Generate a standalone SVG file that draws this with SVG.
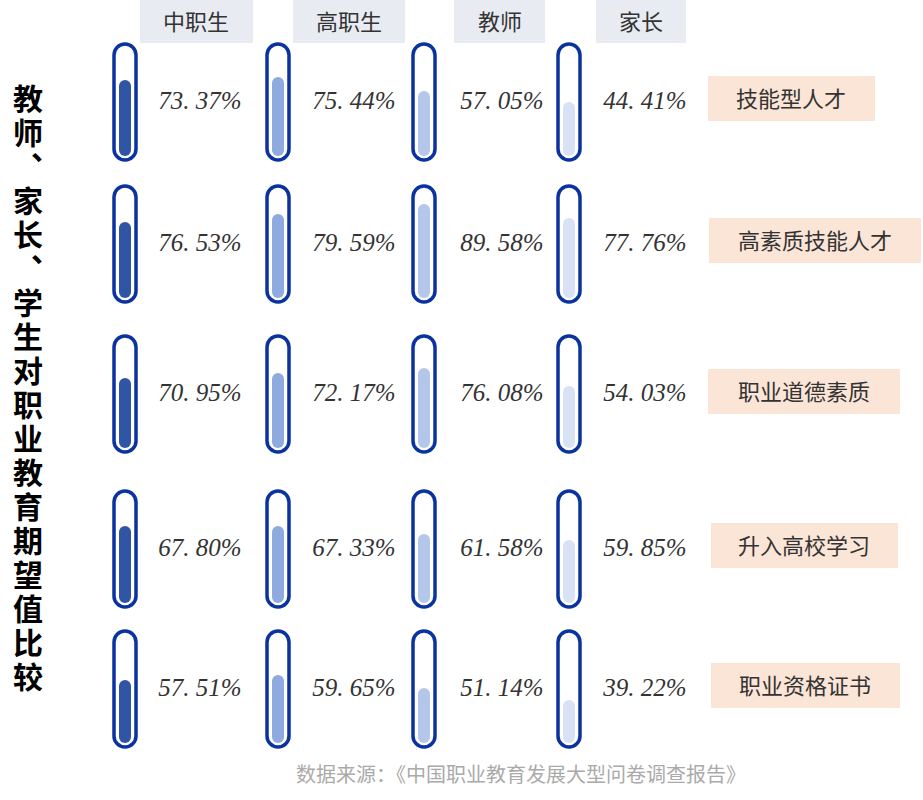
<svg xmlns="http://www.w3.org/2000/svg" width="923" height="800" viewBox="0 0 923 800">
<style>
.hd{fill:#e8ecf2}.hl{font-family:"Noto Sans CJK SC",sans-serif;font-size:22px;fill:#333;text-anchor:middle}
.tube{fill:#fff;stroke:#0a33a0;stroke-width:3.5}
.pct{font-family:"Liberation Serif",serif;font-style:italic;font-size:25px;fill:#333;text-anchor:middle}
.lb{fill:#fbe5d6}.lt{font-family:"Noto Sans CJK SC",sans-serif;font-size:22px;fill:#333;text-anchor:middle}
.c1{fill:#2f55a4}.c2{fill:#8eaadf}.c3{fill:#b4c6ea}.c4{fill:#d9e2f5}
</style>
<g id="headers">
<rect class="hd" x="140" y="0" width="113" height="43"/><text class="hl" x="196" y="30">中职生</text>
<rect class="hd" x="293" y="0" width="112" height="43"/><text class="hl" x="349" y="30">高职生</text>
<rect class="hd" x="454" y="0" width="91" height="43"/><text class="hl" x="500" y="30">教师</text>
<rect class="hd" x="596" y="0" width="90" height="43"/><text class="hl" x="641" y="30">家长</text>
</g>
<g id="title">
<text x="28" y="84" writing-mode="vertical-rl" letter-spacing="4" font-family="Noto Sans CJK SC,sans-serif" font-weight="bold" font-size="30" fill="#000">教师、家长、学生对职业教育期望值比较</text>
</g>
<g id="row1">
<rect class="tube" x="114" y="44" width="22" height="116" rx="11"/><rect class="c1" x="119" y="80" width="12" height="76" rx="6"/>
<rect class="tube" x="267" y="44" width="22" height="116" rx="11"/><rect class="c2" x="272" y="77" width="12" height="79" rx="6"/>
<rect class="tube" x="413" y="44" width="22" height="116" rx="11"/><rect class="c3" x="418" y="91" width="12" height="65" rx="6"/>
<rect class="tube" x="558" y="44" width="22" height="116" rx="11"/><rect class="c4" x="563" y="102" width="12" height="54" rx="6"/>
<text class="pct" x="200" y="109">73. 37%</text><text class="pct" x="354" y="109">75. 44%</text><text class="pct" x="502" y="109">57. 05%</text><text class="pct" x="645" y="109">44. 41%</text>
<rect class="lb" x="708" y="76" width="167" height="45"/><text class="lt" x="791" y="107">技能型人才</text>
</g>
<g id="row2">
<rect class="tube" x="114" y="186" width="22" height="116" rx="11"/><rect class="c1" x="119" y="222" width="12" height="76" rx="6"/>
<rect class="tube" x="267" y="186" width="22" height="116" rx="11"/><rect class="c2" x="272" y="214" width="12" height="84" rx="6"/>
<rect class="tube" x="413" y="186" width="22" height="116" rx="11"/><rect class="c3" x="418" y="204" width="12" height="94" rx="6"/>
<rect class="tube" x="558" y="186" width="22" height="116" rx="11"/><rect class="c4" x="563" y="218" width="12" height="80" rx="6"/>
<text class="pct" x="200" y="251">76. 53%</text><text class="pct" x="354" y="251">79. 59%</text><text class="pct" x="502" y="251">89. 58%</text><text class="pct" x="645" y="251">77. 76%</text>
<rect class="lb" x="709" y="218" width="212" height="45"/><text class="lt" x="815" y="249">高素质技能人才</text>
</g>
<g id="row3">
<rect class="tube" x="114" y="336" width="22" height="116" rx="11"/><rect class="c1" x="119" y="378" width="12" height="70" rx="6"/>
<rect class="tube" x="267" y="336" width="22" height="116" rx="11"/><rect class="c2" x="272" y="373" width="12" height="75" rx="6"/>
<rect class="tube" x="413" y="336" width="22" height="116" rx="11"/><rect class="c3" x="418" y="368" width="12" height="80" rx="6"/>
<rect class="tube" x="558" y="336" width="22" height="116" rx="11"/><rect class="c4" x="563" y="386" width="12" height="62" rx="6"/>
<text class="pct" x="200" y="401">70. 95%</text><text class="pct" x="354" y="401">72. 17%</text><text class="pct" x="502" y="401">76. 08%</text><text class="pct" x="645" y="401">54. 03%</text>
<rect class="lb" x="708" y="369" width="192" height="45"/><text class="lt" x="804" y="400">职业道德素质</text>
</g>
<g id="row4">
<rect class="tube" x="114" y="491" width="22" height="116" rx="11"/><rect class="c1" x="119" y="526" width="12" height="77" rx="6"/>
<rect class="tube" x="267" y="491" width="22" height="116" rx="11"/><rect class="c2" x="272" y="526" width="12" height="77" rx="6"/>
<rect class="tube" x="413" y="491" width="22" height="116" rx="11"/><rect class="c3" x="418" y="534" width="12" height="69" rx="6"/>
<rect class="tube" x="558" y="491" width="22" height="116" rx="11"/><rect class="c4" x="563" y="540" width="12" height="63" rx="6"/>
<text class="pct" x="200" y="556">67. 80%</text><text class="pct" x="354" y="556">67. 33%</text><text class="pct" x="502" y="556">61. 58%</text><text class="pct" x="645" y="556">59. 85%</text>
<rect class="lb" x="711" y="523" width="187" height="45"/><text class="lt" x="804" y="554">升入高校学习</text>
</g>
<g id="row5">
<rect class="tube" x="114" y="631" width="22" height="116" rx="11"/><rect class="c1" x="119" y="680" width="12" height="63" rx="6"/>
<rect class="tube" x="267" y="631" width="22" height="116" rx="11"/><rect class="c2" x="272" y="675" width="12" height="68" rx="6"/>
<rect class="tube" x="413" y="631" width="22" height="116" rx="11"/><rect class="c3" x="418" y="688" width="12" height="55" rx="6"/>
<rect class="tube" x="558" y="631" width="22" height="116" rx="11"/><rect class="c4" x="563" y="700" width="12" height="43" rx="6"/>
<text class="pct" x="200" y="696">57. 51%</text><text class="pct" x="354" y="696">59. 65%</text><text class="pct" x="502" y="696">51. 14%</text><text class="pct" x="645" y="696">39. 22%</text>
<rect class="lb" x="711" y="663" width="189" height="45"/><text class="lt" x="805" y="694">职业资格证书</text>
</g>
<g id="footer"><text x="521" y="782" font-family="Noto Sans CJK SC,sans-serif" font-size="20" fill="#aaa" text-anchor="middle">数据来源：《中国职业教育发展大型问卷调查报告》</text></g>
</svg>
